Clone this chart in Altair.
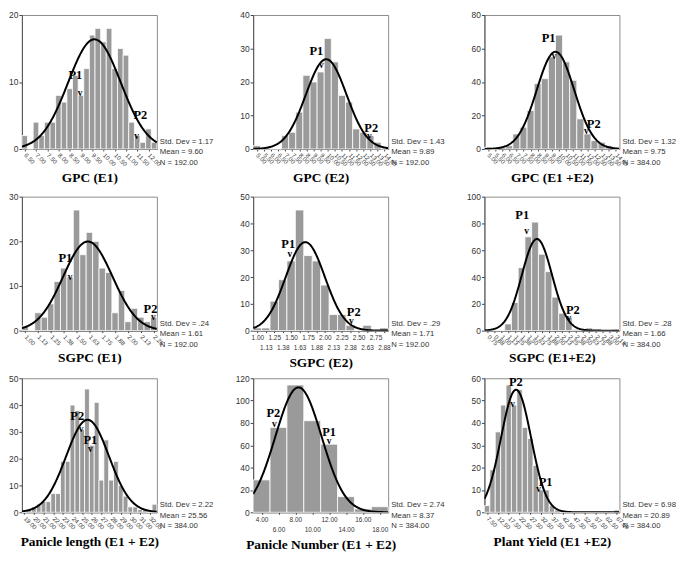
import altair as alt
import numpy as np
import pandas as pd

# ---------------- data ----------------
titles = ["GPC (E1)", "GPC (E2)", "GPC (E1 +E2)",
          "SGPC (E1)", "SGPC (E2)", "SGPC (E1+E2)",
          "Panicle length (E1 + E2)", "Panicle Number (E1 + E2)", "Plant Yield (E1 +E2)"]
std_dev_text = ["1.17", "1.43", "1.32", ".24", ".29", ".28", "2.22", "2.74", "6.98"]
mean_text = ["9.60", "9.89", "9.75", "1.61", "1.71", "1.66", "25.56", "8.37", "20.89"]
n_text = ["192.00", "192.00", "384.00", "192.00", "192.00", "384.00", "384.00", "384.00", "384.00"]

bin_widths = [0.25, 0.5, 0.5, 0.0625, 0.125, 0.125, 0.5, 2.0, 2.5]
first_centers = [6.5, 5.0, 5.0, 1.0, 1.0, 0.75, 19.0, 4.0, 7.5]

gpc_e1_counts = [2, 0, 4, 2, 4, 4, 8, 7, 9, 11, 8, 12, 17, 18, 16, 18, 12, 15, 14, 4, 2, 1, 3, 1]
gpc_e2_counts = [1, 0, 0, 0, 4, 5, 11, 22, 20, 23, 33, 26, 16, 14, 6, 5, 4, 2, 0]
gpc_e12_counts = [1, 0, 1, 2, 9, 13, 23, 39, 42, 55, 68, 52, 41, 18, 9, 5, 4, 2, 0]
sgpc_e1_counts = [1, 0, 4, 3, 6, 11, 14, 12, 27, 17, 22, 20, 14, 13, 4, 9, 2, 5, 3, 2, 3]
sgpc_e2_counts = [1, 1, 11, 19, 26, 45, 28, 26, 17, 6, 6, 2, 0, 2, 0, 1]
sgpc_e12_counts = [0, 0, 0, 5, 21, 47, 70, 81, 57, 44, 25, 13, 10, 1, 1, 2, 0, 0, 0, 1]
panicle_len_counts = [0, 1, 2, 3, 4, 4, 7, 7, 19, 19, 40, 38, 31, 46, 25, 41, 12, 27, 12, 19,
                      10, 6, 2, 2, 1, 1, 0, 3]
panicle_num_counts = [29, 76, 114, 82, 61, 14, 3, 5]
plant_yield_counts = [3, 19, 36, 48, 57, 48, 55, 38, 33, 21, 10, 10, 3, 1, 0, 0, 0, 0, 0, 0,
                      0, 0, 0, 0, 1]
counts = [gpc_e1_counts, gpc_e2_counts, gpc_e12_counts, sgpc_e1_counts, sgpc_e2_counts,
          sgpc_e12_counts, panicle_len_counts, panicle_num_counts, plant_yield_counts]

gpc_e1_ticks = [6.5, 7.0, 7.5, 8.0, 8.5, 9.0, 9.5, 10.0, 10.5, 11.0, 11.5, 12.0]
gpc_e2_ticks = [5.0, 5.5, 6.0, 6.5, 7.0, 7.5, 8.0, 8.5, 9.0, 9.5, 10.0, 10.5, 11.0, 11.5,
                12.0, 12.5, 13.0, 13.5, 14.0]
gpc_e12_ticks = [5.0, 5.5, 6.0, 6.5, 7.0, 7.5, 8.0, 8.5, 9.0, 9.5, 10.0, 10.5, 11.0, 11.5,
                 12.0, 12.5, 13.0, 13.5, 14.0]
sgpc_e1_ticks = [1.0, 1.125, 1.25, 1.375, 1.5, 1.625, 1.75, 1.875, 2.0, 2.125, 2.25]
sgpc_e2_ticks = [1.0, 1.125, 1.25, 1.375, 1.5, 1.625, 1.75, 1.875, 2.0, 2.125, 2.25, 2.375,
                 2.5, 2.625, 2.75, 2.875]
sgpc_e12_ticks = [0.75, 0.875, 1.0, 1.125, 1.25, 1.375, 1.5, 1.625, 1.75, 1.875, 2.0, 2.125,
                  2.25, 2.375, 2.5, 2.625, 2.75, 2.875, 3.0, 3.125]
panicle_len_ticks = [19.0, 20.0, 21.0, 22.0, 23.0, 24.0, 25.0, 26.0, 27.0, 28.0, 29.0, 30.0,
                     31.0, 32.0]
panicle_num_ticks = [4.0, 6.0, 8.0, 10.0, 12.0, 14.0, 16.0, 18.0]
plant_yield_ticks = [7.5, 12.5, 17.5, 22.5, 27.5, 32.5, 37.5, 42.5, 47.5, 52.5, 57.5, 62.5, 67.5]
x_ticks = [gpc_e1_ticks, gpc_e2_ticks, gpc_e12_ticks, sgpc_e1_ticks, sgpc_e2_ticks,
           sgpc_e12_ticks, panicle_len_ticks, panicle_num_ticks, plant_yield_ticks]

y_ticks = [[0, 10, 20], [0, 10, 20, 30, 40], [0, 20, 40, 60, 80], [0, 10, 20, 30],
           [0, 10, 20, 30, 40, 50], [0, 20, 40, 60, 80, 100], [0, 10, 20, 30, 40, 50],
           [0, 20, 40, 60, 80, 100, 120], [0, 10, 20, 30, 40, 50, 60]]

# parent markers (label, x in data units, y in counts)
parent_marks = [
    [("P1", 8.75, 11.0), ("v", 8.96, 8.3), ("P2", 11.64, 5.0), ("v", 11.47, 1.9)],
    [("P1", 9.20, 29.3), ("v", 9.54, 25.1), ("P2", 13.06, 6.2), ("v", 12.92, 3.8)],
    [("P1", 9.27, 66.4), ("v", 9.66, 55.4), ("P2", 12.44, 15.0), ("v", 11.93, 10.6)],
    [("P1", 1.391, 16.2), ("v", 1.438, 12.1), ("P2", 2.219, 4.8), ("v", 2.247, 3.1)],
    [("P1", 1.457, 32.4), ("v", 1.48, 28.5), ("P2", 2.427, 6.8), ("v", 2.393, 3.7)],
    [("P1", 1.387, 86.0), ("v", 1.468, 74.0), ("P2", 2.325, 15.0), ("v", 2.25, 9.7)],
    [("P2", 24.49, 35.9), ("v", 24.89, 31.0), ("P1", 25.84, 26.9), ("v", 25.84, 23.7)],
    [("P2", 5.4, 88.7), ("v", 5.52, 79.0), ("P1", 12.0, 71.8), ("v", 12.0, 63.4)],
    [("P2", 20.8, 58.1), ("v", 19.3, 48.6), ("P1", 34.6, 13.6), ("v", 31.3, 10.4)],
]

# staggered (two-row) labels for these panels, rotated labels for the rest
staggered = {4: "round((datum.value - 1) / 0.125) % 2 == 0 ? datum.label : ['', datum.label]",
             7: "(datum.value / 2) % 2 == 0 ? datum.label : ['', datum.label]"}

PW = 136
PH = 135


def make_panel(i):
    c = counts[i]
    w = bin_widths[i]
    fc = first_centers[i]
    centers = [fc + k * w for k in range(len(c))]
    lo = fc - w / 2
    hi = lo + len(c) * w
    bars_df = pd.DataFrame({"start": [x - w / 2 for x in centers],
                            "end": [x + w / 2 for x in centers],
                            "count": c})
    sd = float(std_dev_text[i])
    mu = float(mean_text[i])
    n = float(n_text[i])
    xs = np.linspace(lo, hi, 260)
    ys = n * w / (sd * np.sqrt(2 * np.pi)) * np.exp(-0.5 * ((xs - mu) / sd) ** 2)
    curve_df = pd.DataFrame({"x": xs, "y": ys})

    xscale = alt.Scale(domain=[lo, hi], nice=False, zero=False)
    yscale = alt.Scale(domain=[0, y_ticks[i][-1]], nice=False)

    if i in staggered:
        xaxis = alt.Axis(values=x_ticks[i], format=".2f", title=titles[i], labelAngle=0,
                         labelAlign="center", labelBaseline="top", labelExpr=staggered[i],
                         labelLineHeight=10, labelFontSize=6.5, labelOverlap=False,
                         labelFlush=False, tickSize=2, labelPadding=2, titlePadding=5,
                         grid=False)
    else:
        xaxis = alt.Axis(values=x_ticks[i], format=".2f", title=titles[i], labelAngle=45,
                         labelAlign="left", labelBaseline="middle", labelFontSize=6.2,
                         labelOverlap=False, labelFlush=False, tickSize=2, labelPadding=3,
                         titlePadding=4, grid=False)
    yaxis = alt.Axis(values=y_ticks[i], title="", tickSize=3, labelFontSize=8.5,
                     labelPadding=1, grid=False)

    X = lambda f: alt.X(f, scale=xscale, axis=xaxis)
    Y = lambda f: alt.Y(f, scale=yscale, axis=yaxis)

    bars = alt.Chart(bars_df).mark_bar(color="#9a9a9a", stroke="white", strokeWidth=0.8).encode(
        x=X("start:Q"),
        x2="end:Q",
        y=Y("count:Q"),
        y2=alt.datum(0),
    )
    line = alt.Chart(curve_df).mark_line(color="black", strokeWidth=2, clip=True).encode(
        x=X("x:Q"),
        y=Y("y:Q"),
    )
    marks_df = pd.DataFrame(parent_marks[i], columns=["label", "x", "y"])
    p_text = alt.Chart(marks_df).transform_filter("datum.label != 'v'").mark_text(
        font="Liberation Serif", fontWeight="bold", fontSize=12.5, color="black",
        baseline="middle").encode(
        x=X("x:Q"),
        y=Y("y:Q"),
        text="label:N",
    )
    v_text = alt.Chart(marks_df).transform_filter("datum.label == 'v'").mark_text(
        font="Liberation Serif", fontWeight="bold", fontSize=9.5, color="black",
        baseline="middle").encode(
        x=X("x:Q"),
        y=Y("y:Q"),
        text="label:N",
    )
    stats = alt.Chart(pd.DataFrame({"k": [0]})).mark_text(
        align="left", baseline="bottom", font="Liberation Sans", fontSize=7.8,
        color="#333333", lineHeight=10.5).encode(
        x=alt.value(PW + 3),
        y=alt.value(PH - 3),
        text=alt.value(["Std. Dev = " + std_dev_text[i], "Mean = " + mean_text[i],
                        "N = " + n_text[i]]),
    )
    return alt.layer(bars, line, p_text, v_text, stats).properties(width=PW, height=PH)


panels = [make_panel(i) for i in range(9)]

chart = alt.concat(*panels, columns=3, spacing={"row": 48, "column": 97},
                   bounds="flush").properties(
    padding={"left": 0, "top": 0, "right": 0, "bottom": 0}
).configure_view(
    stroke="#8c8c8c", strokeWidth=1
).configure_axis(
    grid=False,
    labelFont="Liberation Sans", labelColor="#333333", tickColor="#444444",
    domainColor="#555555", titleFont="Liberation Serif", titleFontWeight="bold",
    titleFontSize=13.5, titleColor="black"
)

chart.save("out.html", embed_options={"renderer": "svg", "actions": False})
